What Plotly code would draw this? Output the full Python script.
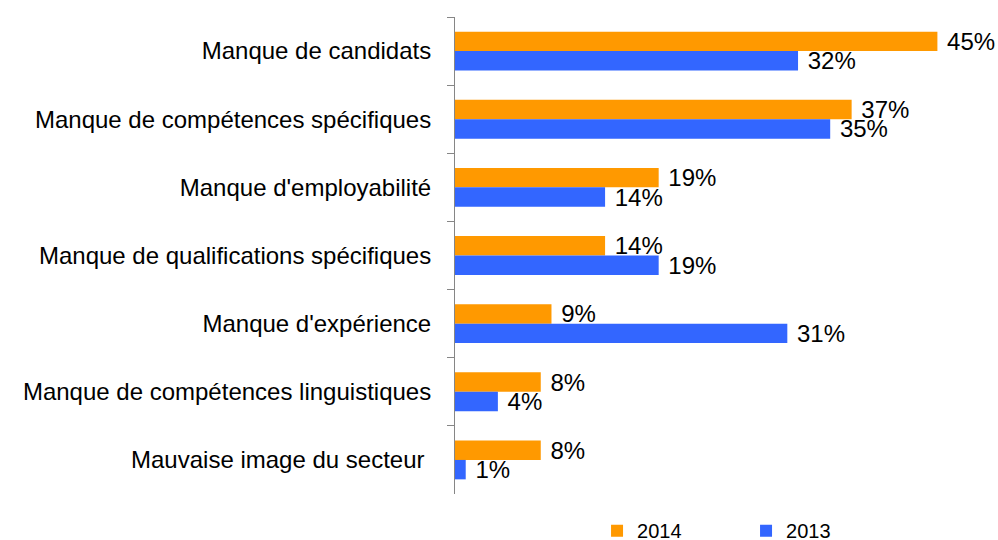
import plotly.graph_objects as go

# Reasons cited for recruitment difficulties, share of respondents (%)
categories = [
    "Manque de candidats",
    "Manque de compétences spécifiques",
    "Manque d'employabilité",
    "Manque de qualifications spécifiques",
    "Manque d'expérience",
    "Manque de compétences linguistiques",
    "Mauvaise image du secteur\u00a0",
]
values_2014 = [45, 37, 19, 14, 9, 8, 8]
values_2013 = [32, 35, 14, 19, 31, 4, 1]

series = [
    ("2014", values_2014, "#FF9900"),
    ("2013", values_2013, "#3366FF"),
]

FONT = "Liberation Sans, Arial, sans-serif"

fig = go.Figure()
for name, vals, color in series:
    fig.add_trace(go.Bar(
        name=name,
        y=categories,
        x=vals,
        orientation="h",
        marker=dict(color=color, line=dict(width=0)),
        text=[f"\u00a0{v}%" for v in vals],
        textposition="outside",
        constraintext="none",
        cliponaxis=False,
        textfont=dict(family=FONT, size=24, color="#000000"),
        hoverinfo="skip",
    ))

fig.update_layout(
    width=998,
    height=540,
    margin=dict(l=455, r=7, t=17, b=46, autoexpand=False),
    paper_bgcolor="white",
    plot_bgcolor="white",
    barmode="group",
    bargap=0.43,
    bargroupgap=0,
    font=dict(family=FONT, size=24, color="#000000"),
    showlegend=True,
    legend=dict(
        orientation="h",
        x=0.265,
        xanchor="left",
        y=-0.036,
        yanchor="top",
        font=dict(family=FONT, size=20, color="#000000"),
        entrywidth=104,
        entrywidthmode="pixels",
        bgcolor="rgba(0,0,0,0)",
        traceorder="normal",
    ),
)

fig.update_xaxes(
    range=[0, 50],
    showgrid=False,
    zeroline=False,
    showline=False,
    showticklabels=False,
    ticks="",
)

fig.update_yaxes(
    autorange="reversed",
    showgrid=False,
    zeroline=False,
    showline=True,
    linecolor="#868686",
    linewidth=1,
    ticks="outside",
    tickson="boundaries",
    ticklen=7,
    tickcolor="#868686",
    ticklabelstandoff=18,
    tickfont=dict(family=FONT, size=24, color="#000000"),
)

fig.write_html("out.html")
